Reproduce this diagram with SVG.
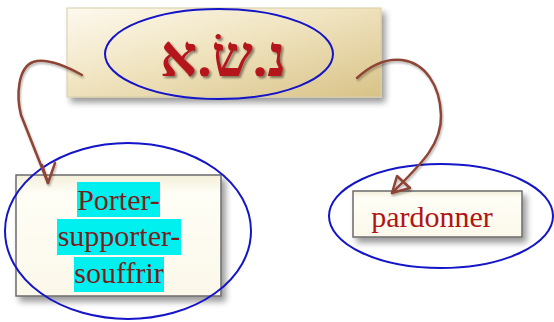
<svg xmlns="http://www.w3.org/2000/svg" width="554" height="322" viewBox="0 0 554 322">
  <defs>
    <linearGradient id="tanFill" x1="0" y1="0" x2="1" y2="1">
      <stop offset="0" stop-color="#fdf9ee"/>
      <stop offset="0.45" stop-color="#f0e4c0"/>
      <stop offset="1" stop-color="#d8c287"/>
    </linearGradient>
    <linearGradient id="creamFill" x1="0" y1="0" x2="0" y2="1">
      <stop offset="0" stop-color="#f3efd9"/>
      <stop offset="0.15" stop-color="#fffef6"/>
      <stop offset="1" stop-color="#fbf8ea"/>
    </linearGradient>
    <filter id="shadow" x="-10%" y="-10%" width="130%" height="140%">
      <feGaussianBlur in="SourceAlpha" stdDeviation="3"/>
      <feOffset dx="4" dy="5" result="b"/>
      <feComponentTransfer><feFuncA type="linear" slope="0.4"/></feComponentTransfer>
      <feMerge><feMergeNode/><feMergeNode in="SourceGraphic"/></feMerge>
    </filter>
    <filter id="textShadow" x="-10%" y="-10%" width="130%" height="130%">
      <feGaussianBlur in="SourceAlpha" stdDeviation="1"/>
      <feOffset dx="2" dy="2"/>
      <feComponentTransfer><feFuncA type="linear" slope="0.45"/></feComponentTransfer>
      <feMerge><feMergeNode/><feMergeNode in="SourceGraphic"/></feMerge>
    </filter>
    <filter id="lineShadow" x="-20%" y="-20%" width="140%" height="140%">
      <feGaussianBlur in="SourceAlpha" stdDeviation="1.2"/>
      <feOffset dx="1" dy="1.5"/>
      <feComponentTransfer><feFuncA type="linear" slope="0.3"/></feComponentTransfer>
      <feMerge><feMergeNode/><feMergeNode in="SourceGraphic"/></feMerge>
    </filter>
  </defs>
  <style>
    .ring { fill: none; stroke: #1414c8; stroke-width: 2; }
    .frame { stroke: #6b6b6b; stroke-width: 1.5; }
    .word { font-family: "Liberation Serif", "Times New Roman", serif; font-size: 30px; text-anchor: middle; }
    .mark { fill: #00f0f0; }
    .link { fill: none; stroke: #8e4434; stroke-width: 2.5; stroke-linecap: round; stroke-linejoin: round; }
  </style>

  <rect width="554" height="322" fill="#ffffff"/>

  <!-- root node -->
  <g id="root">
    <rect x="67" y="8" width="314" height="89" fill="url(#tanFill)" stroke="#d8cda6" stroke-width="1" filter="url(#shadow)"/>
    <ellipse class="ring" cx="219" cy="54" rx="114" ry="45"/>
    <text x="223" y="76" font-family="'Liberation Serif', 'DejaVu Serif', serif" font-size="58" font-weight="bold" fill="#b5161a" text-anchor="middle" filter="url(#textShadow)">נ.שׂ.א</text>
  </g>

  <!-- meaning: carry / bear / suffer -->
  <g id="porter">
    <rect class="frame" x="16" y="175" width="205" height="121" fill="url(#creamFill)" filter="url(#shadow)"/>
    <rect class="mark" x="77" y="182" width="83" height="35"/>
    <rect class="mark" x="57" y="219" width="124" height="36"/>
    <rect class="mark" x="74" y="257" width="90" height="35"/>
    <text class="word" x="118.5" y="210" fill="#7a1c1c">Porter-</text>
    <text class="word" x="119" y="246" fill="#7a1c1c">supporter-</text>
    <text class="word" x="119" y="283" fill="#7a1c1c">souffrir</text>
    <ellipse class="ring" cx="128" cy="231" rx="123" ry="88"/>
  </g>

  <!-- meaning: forgive -->
  <g id="pardonner">
    <rect class="frame" x="353" y="191" width="169" height="46" fill="url(#creamFill)" filter="url(#shadow)"/>
    <text class="word" x="432" y="227" fill="#b01515">pardonner</text>
    <ellipse class="ring" cx="441" cy="216" rx="112" ry="52"/>
  </g>

  <!-- connectors -->
  <g id="connectors" filter="url(#lineShadow)">
    <path class="link" d="M82,75 C62,64 45,58 33,62 C18,68 16,95 21,115 L48,183"/>
    <path class="link" d="M42,165 L48,183 L55,163"/>
    <path class="link" d="M357,78 C370,66 385,58 402,60 C425,63 440,85 441,115 C442,145 420,165 392,193"/>
    <path class="link" d="M397,176 L392,193 L410,188 Z"/>
  </g>
</svg>
